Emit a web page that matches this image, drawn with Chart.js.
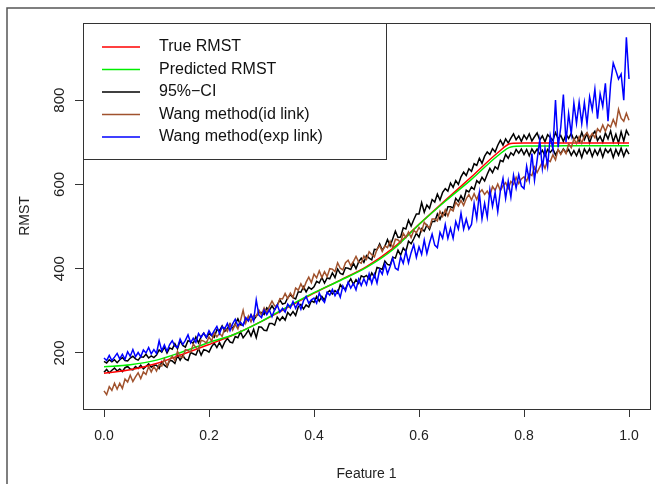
<!DOCTYPE html>
<html>
<head>
<meta charset="utf-8">
<script src="https://cdn.jsdelivr.net/npm/chart.js@4.4.0/dist/chart.umd.min.js"></script>
<style>
  html, body { margin: 0; padding: 0; background: #fff; }
  canvas { display: block; }
</style>
</head>
<body>
<canvas id="rmstChart" width="655" height="484"></canvas>
<script>
// x positions of the smooth curves
const smoothX = [0, 0.05, 0.1, 0.15, 0.2, 0.25, 0.3, 0.35, 0.4, 0.45, 0.5, 0.55, 0.6, 0.65, 0.7, 0.75, 0.775, 0.8, 0.85, 0.9, 0.95, 1.0];
const trueRmst = [152, 160, 175, 197, 220, 245, 275, 308, 342, 373, 405, 448, 505, 562, 618, 675, 697, 698, 698, 698, 698, 698];
const predRmst = [167, 172, 183, 203, 225, 245, 275, 310, 343, 372, 403, 445, 505, 560, 612, 668, 689, 691, 691, 692, 692, 692];

// noisy series sampled on x = 0, 0.005, ... 1.0
const sampleX = Array.from({ length: 201 }, (_, i) => i / 200);
const ciUpper = [
  180, 176, 184, 179, 184, 177, 184, 189, 182, 181, 188, 192, 186, 183, 191, 190, 197, 188, 193, 189,
  195, 207, 202, 214, 200, 212, 209, 222, 210, 229, 218, 214, 229, 227, 223, 238, 224, 239, 247, 236,
  246, 241, 237, 255, 253, 264, 251, 258, 269, 257, 269, 281, 267, 266, 281, 277, 290, 278, 287, 296,
  296, 291, 307, 301, 312, 302, 314, 326, 316, 318, 331, 338, 331, 328, 345, 344, 357, 345, 356, 351,
  357, 370, 366, 379, 366, 378, 376, 390, 379, 399, 389, 386, 402, 401, 398, 413, 400, 416, 425, 415,
  431, 425, 421, 446, 445, 459, 444, 453, 469, 454, 471, 489, 474, 475, 497, 494, 515, 501, 516, 530,
  530, 557, 534, 551, 543, 564, 558, 577, 563, 581, 590, 584, 603, 593, 609, 600, 618, 629, 621, 637,
  631, 649, 645, 662, 650, 667, 677, 671, 685, 677, 693, 705, 693, 708, 698, 710, 720, 706, 715, 702,
  717, 707, 720, 703, 713, 722, 705, 715, 701, 718, 711, 704, 723, 708, 716, 702, 719, 709, 721, 705,
  715, 702, 724, 706, 721, 699, 717, 726, 704, 714, 700, 722, 708, 727, 701, 719, 698, 725, 703, 728,
  716
];
const ciLower = [
  154, 161, 153, 159, 164, 157, 162, 156, 165, 168, 162, 160, 168, 163, 171, 162, 168, 174, 166, 171,
  171, 163, 179, 171, 166, 183, 181, 175, 194, 183, 194, 185, 182, 201, 198, 195, 210, 195, 208, 206,
  202, 215, 223, 213, 225, 212, 226, 235, 226, 224, 239, 236, 250, 236, 244, 254, 240, 256, 236, 262,
  261, 254, 253, 270, 270, 266, 285, 277, 286, 278, 296, 289, 298, 289, 309, 315, 304, 314, 309, 324,
  320, 334, 323, 334, 325, 343, 348, 340, 348, 342, 362, 354, 352, 366, 376, 363, 374, 365, 383, 380,
  384, 375, 390, 380, 403, 401, 398, 418, 410, 408, 427, 425, 444, 432, 449, 441, 465, 459, 471, 484,
  475, 495, 489, 504, 493, 512, 512, 530, 517, 533, 526, 547, 547, 544, 567, 559, 573, 562, 586, 582,
  594, 588, 609, 603, 617, 608, 624, 638, 628, 642, 636, 657, 654, 671, 662, 675, 669, 683, 674, 684,
  671, 683, 668, 684, 674, 684, 672, 681, 667, 683, 676, 684, 670, 682, 673, 684, 675, 683, 669, 680,
  668, 683, 664, 684, 673, 685, 666, 682, 670, 685, 665, 684, 675, 684, 664, 683, 669, 686, 667, 683,
  672
];
const wangId = [
  110, 101, 120, 111, 128, 114, 128, 116, 138, 131, 147, 132, 143, 153, 139, 155, 149, 168, 155, 168,
  157, 173, 169, 186, 169, 184, 192, 182, 204, 191, 189, 208, 206, 202, 221, 213, 208, 230, 228, 224,
  238, 228, 248, 238, 247, 239, 259, 251, 268, 254, 268, 257, 277, 301, 271, 288, 274, 289, 287, 302,
  290, 307, 294, 311, 323, 312, 311, 329, 328, 341, 329, 342, 332, 354, 349, 364, 352, 368, 380, 367,
  387, 378, 395, 379, 393, 381, 400, 399, 393, 414, 401, 397, 414, 420, 407, 417, 429, 416, 413, 430,
  422, 440, 433, 428, 446, 455, 441, 454, 450, 465, 449, 470, 468, 462, 484, 474, 487, 474, 491, 485,
  498, 489, 510, 502, 497, 518, 518, 513, 536, 524, 540, 525, 542, 537, 558, 549, 562, 550, 566, 576,
  563, 578, 564, 580, 587, 576, 584, 573, 595, 586, 601, 585, 597, 604, 590, 607, 600, 617, 602, 613,
  618, 608, 625, 621, 641, 628, 641, 653, 638, 658, 654, 670, 658, 683, 671, 683, 673, 696, 687, 708,
  697, 713, 698, 715, 723, 711, 721, 711, 732, 725, 741, 726, 742, 736, 754, 739, 778, 757, 750, 769,
  752
];
const wangExp = [
  188, 182, 194, 182, 190, 199, 186, 197, 185, 203, 192, 208, 191, 201, 191, 207, 200, 213, 198, 208,
  199, 229, 205, 219, 204, 220, 229, 216, 213, 233, 220, 230, 243, 224, 235, 225, 246, 237, 247, 237,
  253, 242, 253, 263, 246, 262, 257, 270, 253, 269, 280, 264, 273, 265, 284, 276, 291, 276, 326, 290,
  284, 302, 291, 302, 286, 303, 314, 297, 306, 297, 316, 307, 322, 306, 320, 304, 324, 334, 318, 326,
  330, 318, 342, 328, 320, 344, 337, 351, 336, 348, 332, 359, 347, 368, 354, 365, 350, 375, 360, 376,
  362, 388, 365, 387, 366, 398, 387, 411, 388, 405, 425, 401, 397, 428, 413, 441, 414, 438, 457, 427,
  452, 434, 468, 436, 461, 482, 456, 450, 486, 472, 505, 472, 496, 472, 512, 494, 532, 494, 518, 494,
  505, 555, 519, 579, 518, 555, 522, 587, 548, 581, 535, 585, 614, 567, 608, 570, 622, 591, 623, 596,
  590, 643, 610, 673, 610, 658, 705, 638, 685, 643, 715, 683, 800, 688, 735, 813, 700, 768, 720, 793,
  745, 795, 744, 794, 743, 808, 777, 826, 756, 815, 785, 840, 750, 838, 888, 870, 850, 862, 800, 949,
  850
];

const xTicks = [0, 0.2, 0.4, 0.6, 0.8, 1.0];
const yTicks = [200, 400, 600, 800];

const legendLabels = ['True RMST', 'Predicted RMST', '95%\u2212CI', 'Wang method(id link)', 'Wang method(exp link)'];
const legendColors = ['#ff0000', '#00ee00', '#000000', '#a0522d', '#0000ff'];

const toPoints = (xs, ys) => xs.map((x, i) => ({ x: x, y: ys[i] }));

// outer frame + plot box + legend + rotated y tick labels (R style)
const rStylePlugin = {
  id: 'rStyle',
  beforeDraw: (chart) => {
    const ctx = chart.ctx;
    ctx.save();
    ctx.strokeStyle = '#555';
    ctx.lineWidth = 1.5;
    ctx.beginPath();
    ctx.moveTo(7, chart.height);
    ctx.lineTo(7, 8);
    ctx.lineTo(chart.width, 8);
    ctx.stroke();
    ctx.restore();
  },
  afterDraw: (chart) => {
    const ctx = chart.ctx;
    const area = chart.chartArea;
    const yScale = chart.scales.y;
    ctx.save();
    ctx.strokeStyle = '#333';
    ctx.lineWidth = 1;
    ctx.strokeRect(area.left + 0.5, area.top + 0.5, area.right - area.left, area.bottom - area.top);

    // y tick labels, parallel to the axis
    ctx.fillStyle = '#222';
    ctx.font = '15px "Liberation Sans", Arial, sans-serif';
    ctx.textAlign = 'center';
    ctx.textBaseline = 'middle';
    yTicks.forEach((v) => {
      const py = yScale.getPixelForValue(v);
      ctx.save();
      ctx.translate(60, py);
      ctx.rotate(-Math.PI / 2);
      ctx.fillText(String(v), 0, 0);
      ctx.restore();
    });

    // legend
    const lx = area.left, ly = area.top;
    ctx.fillStyle = '#fff';
    ctx.fillRect(lx, ly, 303, 136);
    ctx.strokeStyle = '#333';
    ctx.strokeRect(lx + 0.5, ly + 0.5, 303, 136);
    ctx.font = '16px "Liberation Sans", Arial, sans-serif';
    ctx.textAlign = 'left';
    legendLabels.forEach((label, i) => {
      const rowY = ly + 24 + i * 22.5;
      ctx.strokeStyle = legendColors[i];
      ctx.lineWidth = 1.5;
      ctx.beginPath();
      ctx.moveTo(lx + 19, rowY);
      ctx.lineTo(lx + 57, rowY);
      ctx.stroke();
      ctx.fillStyle = '#111';
      ctx.fillText(label, lx + 76, rowY);
    });
    ctx.restore();
  }
};

const lineStyle = (color, order) => ({
  borderColor: color,
  backgroundColor: color,
  borderWidth: 1.5,
  pointRadius: 0,
  tension: 0,
  fill: false,
  order: order
});

new Chart(document.getElementById('rmstChart').getContext('2d'), {
  type: 'line',
  data: {
    datasets: [
      { label: 'True RMST', data: toPoints(smoothX, trueRmst), ...lineStyle('#ff0000', 3), cubicInterpolationMode: 'monotone' },
      { label: 'Predicted RMST', data: toPoints(smoothX, predRmst), ...lineStyle('#00ee00', 2), cubicInterpolationMode: 'monotone' },
      { label: '95%-CI upper', data: toPoints(sampleX, ciUpper), ...lineStyle('#000000', 4) },
      { label: '95%-CI lower', data: toPoints(sampleX, ciLower), ...lineStyle('#000000', 4) },
      { label: 'Wang method(id link)', data: toPoints(sampleX, wangId), ...lineStyle('#a0522d', 1) },
      { label: 'Wang method(exp link)', data: toPoints(sampleX, wangExp), ...lineStyle('#0000ff', 0) }
    ]
  },
  options: {
    responsive: false,
    animation: false,
    devicePixelRatio: 1,
    layout: { padding: { left: 0, right: 5, top: 23, bottom: 0 } },
    plugins: {
      legend: { display: false },
      tooltip: { enabled: false }
    },
    scales: {
      x: {
        type: 'linear',
        min: -0.04,
        max: 1.04,
        afterBuildTicks: (scale) => { scale.ticks = xTicks.map((v) => ({ value: v })); },
        afterFit: (scale) => { scale.height = 75; },
        border: { display: false },
        grid: { drawOnChartArea: false, drawTicks: true, tickLength: 8, color: '#333', lineWidth: 1 },
        ticks: {
          color: '#222',
          padding: 11,
          maxRotation: 0,
          font: { family: '"Liberation Sans", Arial, sans-serif', size: 14 },
          callback: (v) => Number(v).toFixed(1)
        },
        title: {
          display: true,
          text: 'Feature 1',
          color: '#222',
          padding: { top: 0, bottom: 1 },
          font: { family: '"Liberation Sans", Arial, sans-serif', size: 14 }
        }
      },
      y: {
        type: 'linear',
        min: 67,
        max: 983,
        afterBuildTicks: (scale) => { scale.ticks = yTicks.map((v) => ({ value: v })); },
        afterFit: (scale) => { scale.width = 83; },
        border: { display: false },
        grid: { drawOnChartArea: false, drawTicks: true, tickLength: 8, color: '#333', lineWidth: 1 },
        ticks: { display: false },
        title: {
          display: true,
          text: 'RMST',
          color: '#222',
          padding: { top: 17, bottom: 0 },
          font: { family: '"Liberation Sans", Arial, sans-serif', size: 14 }
        }
      }
    }
  },
  plugins: [rStylePlugin]
});
</script>
</body>
</html>
